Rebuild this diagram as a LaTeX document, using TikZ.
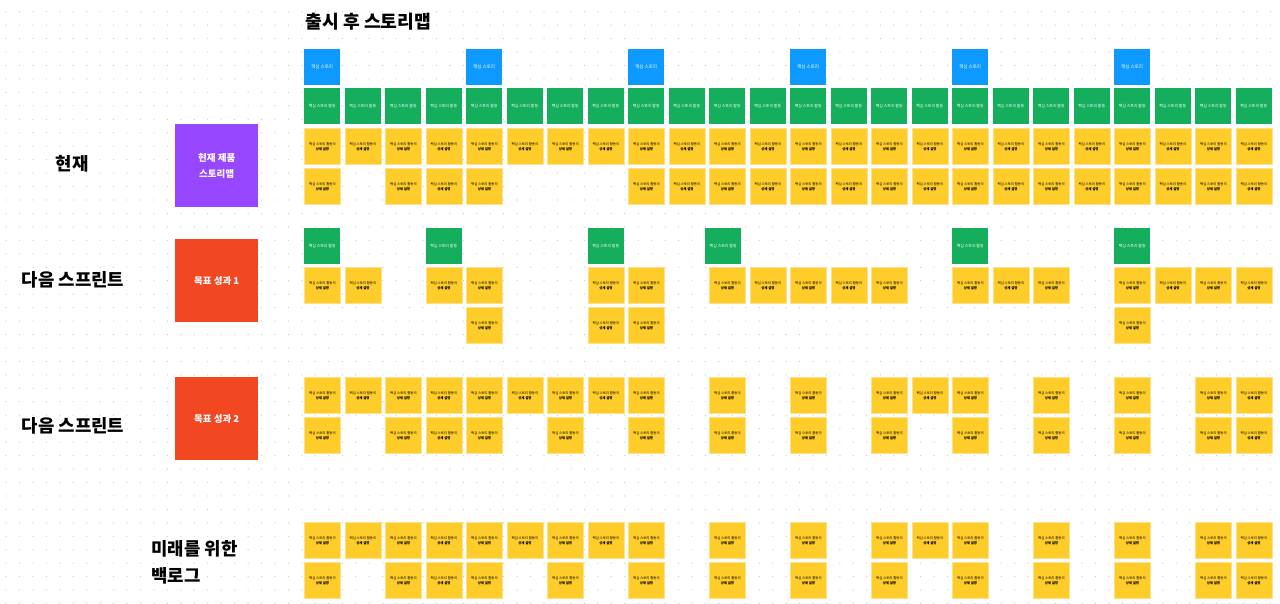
\documentclass[tikz,border=0pt]{standalone}
\usepackage{fontspec}
\setmainfont{Noto Sans CJK KR}

\definecolor{storyblue}{HTML}{0D99FF}
\definecolor{actgreen}{HTML}{14AE5C}
\definecolor{noteyellow}{HTML}{FFCD29}
\definecolor{noteedge}{HTML}{FFE08C}
\definecolor{goalpurple}{HTML}{9747FF}
\definecolor{goalred}{HTML}{F24822}
\definecolor{dotgray}{HTML}{CCCCCC}

\newcommand\detailtext{핵심 스토리 활동의\\\textbf{상세 설명}}

\tikzset{
  card/.style={anchor=north west, minimum width=36pt, minimum height=36pt,
    inner sep=0pt, align=center},
  story/.style={card, fill=storyblue, text=white, font=\fontsize{4.5}{5}\selectfont},
  activity/.style={card, fill=actgreen, text=white, font=\fontsize{3.9}{4.5}\selectfont},
  detail/.style={card, fill=noteyellow, draw=noteedge, line width=0.8pt,
    font=\fontsize{3.4}{5}\selectfont},
  goal/.style={anchor=north west, minimum width=83pt, minimum height=83pt,
    inner sep=0pt, align=center, text=white, font=\fontsize{9.5}{16}\selectfont\bfseries},
  rowlabel/.style={font=\fontsize{17.8}{27}\selectfont\bfseries}
}

\begin{document}
\begin{tikzpicture}[x=1pt, y=-1pt]
  \useasboundingbox[fill=white] (0,0) rectangle (1280,604);

  % dot grid
  \foreach \i in {0,...,94}
    \foreach \j in {0,...,44}
      \fill[dotgray] ({6+13.45*\i},{11.7+13.45*\j}) circle (0.65pt);

  \node[anchor=west, font=\fontsize{18.2}{20}\selectfont\bfseries] (title) at (302,22) {출시 후 스토리맵};

  % left side
  \node[rowlabel] (nowlabel) at (72,164) {현재};
  \node[rowlabel] (sprintlabelA) at (73,280) {다음 스프린트};
  \node[rowlabel] (sprintlabelB) at (73,426) {다음 스프린트};
  \node[rowlabel, anchor=west, align=left] (backloglabel) at (148,562) {미래를 위한\\백로그};

  \node[goal, fill=goalpurple] (nowgoal) at (175,124) {현재 제품\\스토리맵};
  \node[goal, fill=goalred] (goalA) at (175,239) {목표 성과 1};
  \node[goal, fill=goalred] (goalB) at (175,377) {목표 성과 2};

  % current story map
  \foreach \c in {0,4,8,12,16,20}
    \node[story] (story\c) at ({304+40.5*\c},49) {핵심 스토리};
  \foreach \c in {0,...,23}
    \node[activity] (act\c) at ({304+40.5*\c},88) {핵심 스토리 활동};
  \foreach \c in {0,...,23}
    \node[detail] (nowA\c) at ({304+40.5*\c},128) {\detailtext};
  \foreach \c in {0,2,3,4,8,9,...,23}
    \node[detail] (nowB\c) at ({304+40.5*\c},168) {\detailtext};

  % next sprint 1
  \foreach \c [count=\k] in {0,3,7,9.9,16,20}
    \node[activity] (sprintAact\k) at ({304+40.5*\c},228) {핵심 스토리 활동};
  \foreach \c in {0,1,3,4,7,8,10,11,12,13,14,16,17,18,20,21,22,23}
    \node[detail] (sprintA\c) at ({304+40.5*\c},267) {\detailtext};
  \foreach \c in {4,7,8,20}
    \node[detail] (sprintAB\c) at ({304+40.5*\c},307) {\detailtext};

  % next sprint 2
  \foreach \c in {0,...,8,10,12,14,15,16,18,20,22,23}
    \node[detail] (sprintB\c) at ({304+40.5*\c},377) {\detailtext};
  \foreach \c in {0,2,3,4,6,8,10,12,14,16,18,20,22,23}
    \node[detail] (sprintBB\c) at ({304+40.5*\c},417) {\detailtext};

  % backlog
  \foreach \c in {0,...,8,10,12,14,15,16,18,20,22,23}
    \node[detail] (backlog\c) at ({304+40.5*\c},522) {\detailtext};
  \foreach \c in {0,2,3,4,6,8,10,12,14,16,18,20,22,23}
    \node[detail] (backlogB\c) at ({304+40.5*\c},562) {\detailtext};
\end{tikzpicture}
\end{document}
